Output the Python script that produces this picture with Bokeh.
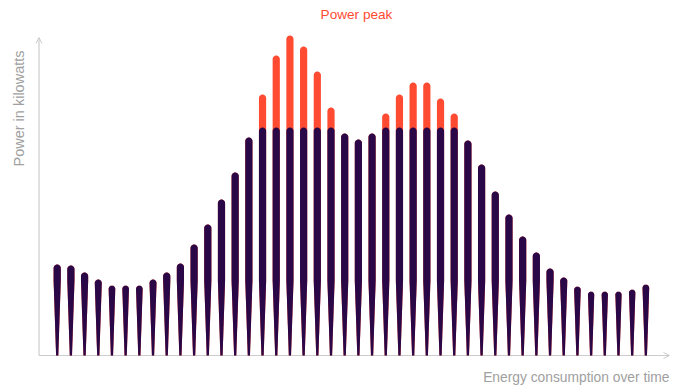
import numpy as np
from bokeh.plotting import figure
from bokeh.models import Label, Arrow, OpenHead, Range1d
from bokeh.embed import file_html
from bokeh.resources import INLINE

# ---- data (power per time slot) ----
total = [91, 90, 83, 76, 70, 70, 70, 76, 83, 92, 111, 131, 156, 183, 218,
         261, 300, 320, 309, 284, 248, 222, 216, 222, 242, 261, 273, 273, 257,
         242, 215, 191, 164, 141, 119, 103, 87, 78, 69, 64, 64, 64, 66, 71]
capacity = 228
slots = list(range(len(total)))
base_part = [min(v, capacity) for v in total]

title_text = "Power peak"
y_label = "Power in kilowatts"
x_label = "Energy consumption over time"

# ---- layout ----
W, H = 676, 385
X0_PX, DX_PX, BASE_PX = 56.7, 13.69, 355.0


def px_x(px):
    return (px - X0_PX) / DX_PX


def px_y(py):
    return BASE_PX - py


p = figure(width=W, height=H,
           x_range=Range1d(px_x(0), px_x(W)),
           y_range=Range1d(px_y(H), px_y(0)),
           output_backend="svg", toolbar_location=None,
           x_axis_location=None, y_axis_location=None,
           min_border=0, outline_line_color=None)
p.grid.visible = False
p.background_fill_color = "white"


def needle(xc, v, top_w=7.2, base_w=2.2, taper=75.0, n_arc=14):
    def width(h):
        return base_w + (top_w - base_w) * min(h / taper, 1.0)
    r = width(v) / 2
    h_top = max(v - r, 0.0)
    r = width(h_top) / 2
    hs = [0.0]
    if h_top > taper:
        hs.append(taper)
    hs.append(h_top)
    left_x = [xc - width(h) / 2 / DX_PX for h in hs]
    left_y = list(hs)
    th = np.linspace(np.pi, 0, n_arc)
    arc_x = list(xc + r * np.cos(th) / DX_PX)
    arc_y = list(h_top + r * np.sin(th))
    right_x = [xc + width(h) / 2 / DX_PX for h in reversed(hs)]
    right_y = list(reversed(hs))
    return left_x + arc_x + right_x, left_y + arc_y + right_y


red_xs, red_ys, dk_xs, dk_ys = [], [], [], []
for s, t, b in zip(slots, total, base_part):
    xx, yy = needle(s, t)
    red_xs.append(xx); red_ys.append(yy)
    xx, yy = needle(s, b)
    dk_xs.append(xx); dk_ys.append(yy)

RED = "#ff4b32"
DARK = "#2a0848"
AXIS = "#cccccc"
TXT = "#a0a0a0"

# axes with arrows
ax_x = px_x(38.5)
p.add_layout(Arrow(end=OpenHead(size=6, line_color=AXIS, line_width=1),
                   x_start=ax_x, y_start=0, x_end=ax_x, y_end=px_y(37),
                   line_color=AXIS, line_width=1.2, level="underlay"))
p.add_layout(Arrow(end=OpenHead(size=6, line_color=AXIS, line_width=1),
                   x_start=ax_x, y_start=0, x_end=px_x(669), y_end=0,
                   line_color=AXIS, line_width=1.2, level="underlay"))

p.patches(red_xs, red_ys, fill_color=RED, line_color=None)
p.patches(dk_xs, dk_ys, fill_color=DARK, line_color=None)

p.add_layout(Label(x=px_x(356), y=px_y(14), text=title_text,
                   text_align="center", text_baseline="middle",
                   text_color=RED, text_font_size="13.6px",
                   text_font="Liberation Sans"))
p.add_layout(Label(x=px_x(18), y=px_y(108), text=y_label, angle=np.pi / 2,
                   text_align="center", text_baseline="middle",
                   text_color=TXT, text_font_size="14.5px",
                   text_font="Liberation Sans"))
p.add_layout(Label(x=px_x(669), y=px_y(377), text=x_label,
                   text_align="right", text_baseline="middle",
                   text_color=TXT, text_font_size="13.8px",
                   text_font="Liberation Sans"))

open("out.html", "w").write(file_html(p, INLINE))
